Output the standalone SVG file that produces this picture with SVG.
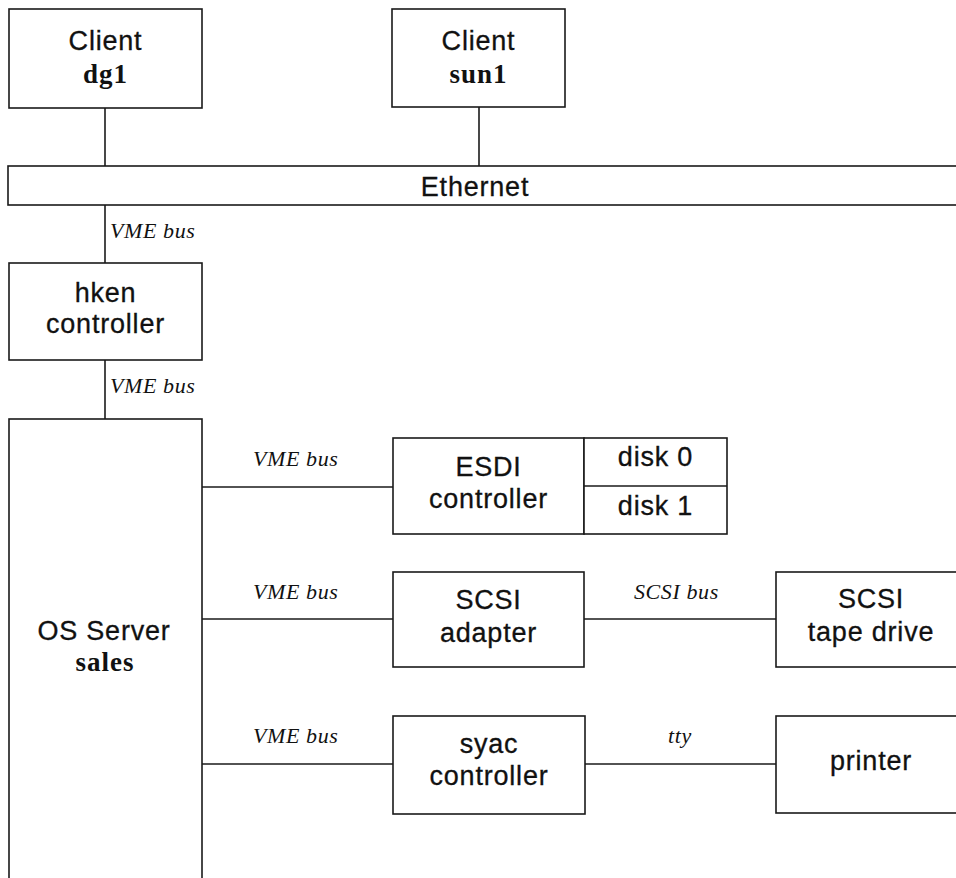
<svg xmlns="http://www.w3.org/2000/svg" width="956" height="878" viewBox="0 0 956 878">
<style>
  .box { fill: #fff; stroke: #1a1a1a; stroke-width: 1.6; }
  .ln { stroke: #1a1a1a; stroke-width: 1.6; fill: none; }
  .sans { font-family: "Liberation Sans", Arial, sans-serif; font-size: 27px; fill: #111; text-anchor: middle; letter-spacing: 0.8px; stroke: #111; stroke-width: 0.3px; }
  .bold { font-family: "Liberation Serif", "Times New Roman", serif; font-size: 27px; font-weight: bold; fill: #111; text-anchor: middle; letter-spacing: 1px; }
  .ital { font-family: "Liberation Serif", "Times New Roman", serif; font-size: 22px; font-style: italic; fill: #111; letter-spacing: 0.6px; }
</style>
<rect width="956" height="878" fill="#fff"/>

<g id="connectors">
  <line class="ln" x1="105" y1="108" x2="105" y2="166"/>
  <line class="ln" x1="479" y1="107" x2="479" y2="166"/>
  <line class="ln" x1="105" y1="205" x2="105" y2="263"/>
  <line class="ln" x1="105" y1="360" x2="105" y2="419"/>
  <line class="ln" x1="202" y1="487" x2="393" y2="487"/>
  <line class="ln" x1="202" y1="619" x2="393" y2="619"/>
  <line class="ln" x1="584" y1="619" x2="776" y2="619"/>
  <line class="ln" x1="202" y1="764" x2="393" y2="764"/>
  <line class="ln" x1="585" y1="764" x2="776" y2="764"/>
  <text class="ital" x="110" y="238">VME bus</text>
  <text class="ital" x="110" y="393">VME bus</text>
  <text class="ital" x="253" y="466">VME bus</text>
  <text class="ital" x="253" y="599">VME bus</text>
  <text class="ital" x="634" y="599">SCSI bus</text>
  <text class="ital" x="253" y="743">VME bus</text>
  <text class="ital" x="680" y="743" text-anchor="middle">tty</text>
</g>

<g id="client-dg1">
  <rect class="box" x="9" y="9" width="193" height="99"/>
  <text class="sans" x="105.5" y="50">Client</text>
  <text class="bold" x="105.5" y="83">dg1</text>
</g>

<g id="client-sun1">
  <rect class="box" x="392" y="9" width="173" height="98"/>
  <text class="sans" x="478.5" y="50">Client</text>
  <text class="bold" x="478.5" y="83">sun1</text>
</g>

<g id="ethernet">
  <rect class="box" x="8" y="166" width="960" height="39"/>
  <text class="sans" x="475" y="196">Ethernet</text>
</g>

<g id="hken-controller">
  <rect class="box" x="9" y="263" width="193" height="97"/>
  <text class="sans" x="105.5" y="302">hken</text>
  <text class="sans" x="105.5" y="333">controller</text>
</g>

<g id="os-server">
  <rect class="box" x="9" y="419" width="193" height="480"/>
  <text class="sans" x="104" y="640">OS Server</text>
  <text class="bold" x="105" y="671">sales</text>
</g>

<g id="esdi-controller">
  <rect class="box" x="393" y="438" width="191" height="96"/>
  <text class="sans" x="488.5" y="476">ESDI</text>
  <text class="sans" x="488.5" y="508">controller</text>
</g>

<g id="disks">
  <rect class="box" x="584" y="438" width="143" height="96"/>
  <line class="ln" x1="584" y1="486" x2="727" y2="486"/>
  <text class="sans" x="655.5" y="466">disk 0</text>
  <text class="sans" x="655.5" y="515">disk 1</text>
</g>

<g id="scsi-adapter">
  <rect class="box" x="393" y="572" width="191" height="95"/>
  <text class="sans" x="488.5" y="609">SCSI</text>
  <text class="sans" x="488.5" y="642">adapter</text>
</g>

<g id="scsi-tape-drive">
  <rect class="box" x="776" y="572" width="200" height="95"/>
  <text class="sans" x="871" y="608">SCSI</text>
  <text class="sans" x="871" y="641">tape drive</text>
</g>

<g id="syac-controller">
  <rect class="box" x="393" y="716" width="192" height="98"/>
  <text class="sans" x="489" y="753">syac</text>
  <text class="sans" x="489" y="785">controller</text>
</g>

<g id="printer">
  <rect class="box" x="776" y="716" width="200" height="97"/>
  <text class="sans" x="871" y="770">printer</text>
</g>
</svg>
